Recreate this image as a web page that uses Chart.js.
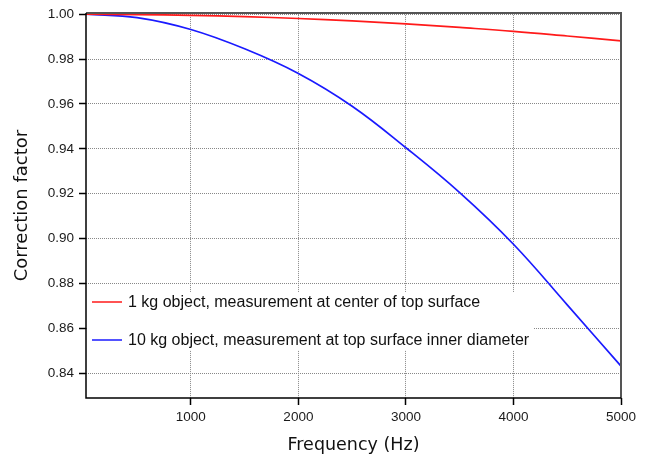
<!DOCTYPE html>
<html>
<head>
<meta charset="utf-8">
<script src="https://cdn.jsdelivr.net/npm/chart.js@4"></script>
<style>
  html, body { margin: 0; padding: 0; background: #fff; }
  #wrap { width: 663px; height: 459px; }
</style>
</head>
<body>
<div id="wrap"><canvas id="chart"></canvas></div>
<script>
const freqs = [25, 500, 1000, 1500, 2000, 2500, 3000, 3500, 4000, 4500, 5000];
const red1kg = [1.0, 0.99985, 0.9995, 0.9989, 0.9981, 0.997, 0.9957, 0.9941, 0.9924, 0.9903, 0.9881];
const blue10kg = [1.0, 0.9985, 0.9932, 0.9846, 0.9736, 0.959, 0.9405, 0.9205, 0.8975, 0.8705, 0.8432];
const xTicks = [1000, 2000, 3000, 4000, 5000];
const yTicks = [0.84, 0.86, 0.88, 0.90, 0.92, 0.94, 0.96, 0.98, 1.00];
const labels = [
    '1 kg object, measurement at center of top surface',
    '10 kg object, measurement at top surface inner diameter'
];

const toPoints = (vals) => freqs.map((f, i) => ({ x: f, y: vals[i] }));

// frame: gray top/right edges like the original
const framePlugin = {
    id: 'frame',
    afterDatasetsDraw(chart) {
        const { ctx, chartArea: a } = chart;
        ctx.save();
        ctx.strokeStyle = '#555';
        ctx.lineWidth = 2;
        ctx.beginPath();
        ctx.moveTo(a.left, a.top);
        ctx.lineTo(a.right, a.top);
        ctx.lineTo(a.right, a.bottom);
        ctx.stroke();
        ctx.strokeStyle = '#000';
        ctx.lineWidth = 1.5;
        ctx.beginPath();
        ctx.moveTo(a.left, a.top);
        ctx.lineTo(a.left, a.bottom);
        ctx.lineTo(a.right, a.bottom);
        ctx.stroke();
        ctx.restore();
    }
};

// legend box inside the plot, lower left
const boxLegend = {
    id: 'boxLegend',
    beforeDatasetsDraw(chart) {
        const { ctx, chartArea: a } = chart;
        ctx.save();
        ctx.fillStyle = '#fff';
        ctx.fillRect(a.left + 1, 292, 532 - a.left, 58);
        ctx.font = '16px "Liberation Sans", Arial, sans-serif';
        ctx.textBaseline = 'middle';
        chart.data.datasets.forEach((ds, i) => {
            const y = 302 + i * 38;
            ctx.strokeStyle = ds.borderColor;
            ctx.lineWidth = 1.5;
            ctx.beginPath();
            ctx.moveTo(92, y);
            ctx.lineTo(122, y);
            ctx.stroke();
            ctx.fillStyle = '#111';
            ctx.fillText(ds.label, 128, y + 1);
        });
        ctx.restore();
    }
};

const gridOpts = {
    color: '#888',
    tickColor: '#000',
    tickBorderDash: [],
    tickLength: 7,
    tickWidth: 1.5
};

new Chart(document.getElementById('chart'), {
    type: 'line',
    data: {
        datasets: [{
            label: labels[0],
            data: toPoints(red1kg),
            borderColor: '#ff1a1a',
            borderWidth: 1.7,
            pointRadius: 0,
            tension: 0.4
        }, {
            label: labels[1],
            data: toPoints(blue10kg),
            borderColor: '#1a1aff',
            borderWidth: 1.7,
            pointRadius: 0,
            tension: 0.4
        }]
    },
    options: {
        responsive: true,
        maintainAspectRatio: false,
        animation: false,
        layout: { padding: { top: 5, right: 42, left: 0, bottom: 0 } },
        plugins: {
            legend: { display: false },
            tooltip: { enabled: false }
        },
        scales: {
            x: {
                type: 'linear',
                min: 25,
                max: 5000,
                afterBuildTicks: (s) => { s.ticks = xTicks.map(v => ({ value: v })); },
                afterFit: (s) => { s.height = 61; },
                ticks: {
                    color: '#1a1a1a',
                    font: { family: '"Liberation Sans", Arial, sans-serif', size: 13.5 },
                    padding: 4,
                    callback: (v) => String(v)
                },
                grid: gridOpts,
                border: { display: false, dash: [1, 1] },
                title: {
                    display: true,
                    text: 'Frequency (Hz)',
                    color: '#111',
                    font: { family: '"DejaVu Sans", Verdana, sans-serif', size: 17.5 },
                    padding: { top: 2, bottom: 3 }
                }
            },
            y: {
                min: 0.829,
                max: 1.0005,
                afterBuildTicks: (s) => { s.ticks = yTicks.map(v => ({ value: v })); },
                afterFit: (s) => { s.width = 86; },
                ticks: {
                    color: '#1a1a1a',
                    font: { family: '"Liberation Sans", Arial, sans-serif', size: 13.5 },
                    padding: 5,
                    callback: (v) => v.toFixed(2)
                },
                grid: gridOpts,
                border: { display: false, dash: [1, 1] },
                title: {
                    display: true,
                    text: 'Correction factor',
                    color: '#111',
                    font: { family: '"DejaVu Sans", Verdana, sans-serif', size: 18 },
                    padding: { top: 12, bottom: 4 }
                }
            }
        }
    },
    plugins: [boxLegend, framePlugin]
});
</script>
</body>
</html>
